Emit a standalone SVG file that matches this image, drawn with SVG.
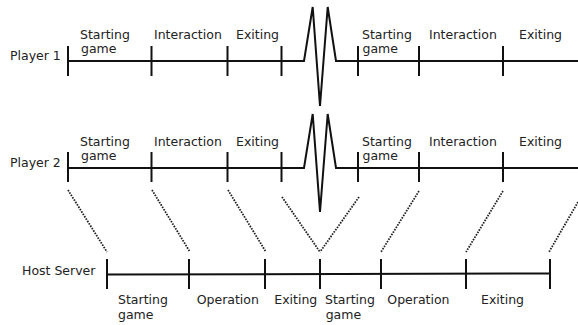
<svg xmlns="http://www.w3.org/2000/svg" width="578" height="325" viewBox="0 0 578 325">
<style>
  text { font-family: "DejaVu Sans", Verdana, sans-serif; font-size: 12.5px; fill: #222; }
  .axis { stroke: #111; stroke-width: 2; fill: none; stroke-linejoin: miter; }
  .tick { stroke: #111; stroke-width: 2; }
  .dot { stroke: #222; stroke-width: 1.8; stroke-dasharray: 1.6 1.2; fill: none; }
</style>
<rect width="578" height="325" fill="#fff"/>
<g id="player1">
  <text x="10" y="60">Player 1</text>
  <polyline class="axis" points="68,61 304,61 312.7,7 320,106 327.7,7 336,61 578,61"/>
  <path class="tick" d="M68,46V76M151.5,46V76M227.5,46V76M281.5,46V76M358,46V76M419,46V76M503,46V76"/>
  <text x="80" y="38.7">Starting</text>
  <text x="81" y="53">game</text>
  <text x="154" y="38.7">Interaction</text>
  <text x="236" y="38.7">Exiting</text>
  <text x="362" y="38.7">Starting</text>
  <text x="362.5" y="53">game</text>
  <text x="429" y="38.7">Interaction</text>
  <text x="519" y="38.7">Exiting</text>
</g>
<g id="player2">
  <text x="10" y="167">Player 2</text>
  <polyline class="axis" points="68,168 304,168 312.7,114 320,212 327.7,114 336,168 578,168"/>
  <path class="tick" d="M68,152V182M151.5,152V182M227.5,152V182M281.5,152V182M358,152V182M419,152V182M503,152V182"/>
  <text x="80" y="145.7">Starting</text>
  <text x="81" y="160">game</text>
  <text x="154" y="145.7">Interaction</text>
  <text x="236" y="145.7">Exiting</text>
  <text x="362" y="145.7">Starting</text>
  <text x="362.5" y="160">game</text>
  <text x="429" y="145.7">Interaction</text>
  <text x="519" y="145.7">Exiting</text>
</g>
<g id="host">
  <text x="22" y="275">Host Server</text>
  <line class="axis" x1="107" y1="274.5" x2="550" y2="273.5"/>
  <path class="tick" d="M107,259V289M189,259V289M265,259V289M320,259V289M381,259V289M466,259V289M550,259V289"/>
  <text x="118" y="304.3">Starting</text>
  <text x="118" y="318.5">game</text>
  <text x="196.7" y="304.3">Operation</text>
  <text x="274.3" y="304.3">Exiting</text>
  <text x="325" y="304.3">Starting</text>
  <text x="325.7" y="318.5">game</text>
  <text x="387.3" y="304.3">Operation</text>
  <text x="481" y="304.3">Exiting</text>
</g>
<g id="connectors">
  <line class="dot" x1="68" y1="190" x2="107" y2="252"/>
  <line class="dot" x1="152" y1="190" x2="190" y2="252"/>
  <line class="dot" x1="228" y1="190" x2="266" y2="252"/>
  <line class="dot" x1="282" y1="197" x2="320" y2="252"/>
  <line class="dot" x1="359" y1="197" x2="320" y2="252"/>
  <line class="dot" x1="419" y1="191" x2="381" y2="252"/>
  <line class="dot" x1="503" y1="191" x2="466" y2="252"/>
  <line class="dot" x1="578" y1="202" x2="549" y2="252"/>
</g>
</svg>
